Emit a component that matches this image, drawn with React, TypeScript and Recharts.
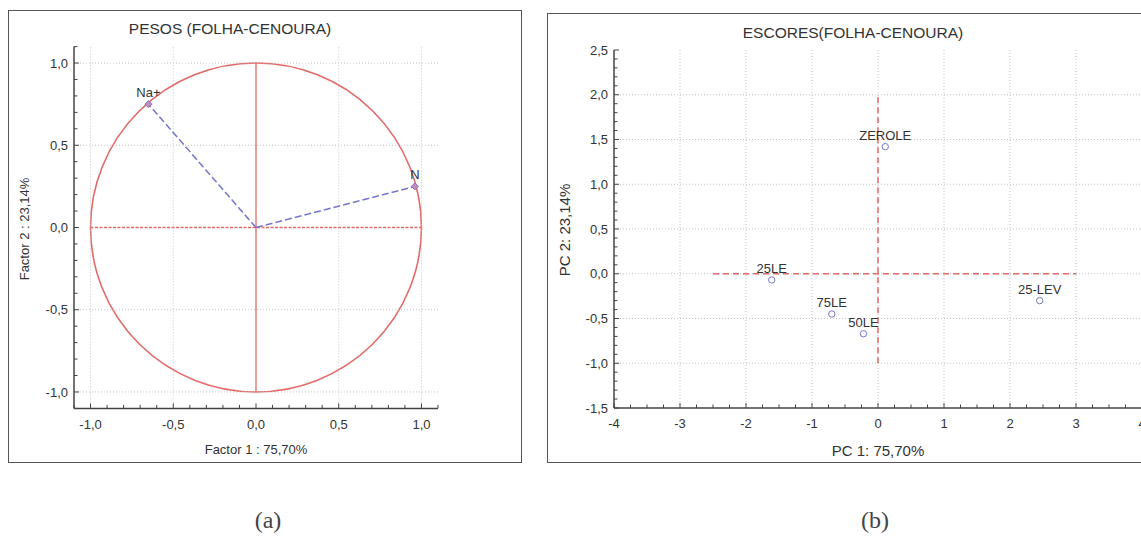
import React from 'react';
import { ScatterChart, Scatter, XAxis, YAxis, ReferenceLine, ReferenceArea } from 'recharts';

const FONT = '"Liberation Sans", Arial, Helvetica, sans-serif';

// ---------- Panel (a): loadings ----------
const loadingNames = ['Na+', 'N'];
const loadingF1 = [-0.65, 0.96];
const loadingF2 = [0.75, 0.25];
const aMajorTicks = [-1.0, -0.5, 0.0, 0.5, 1.0];
const aMajorLabels = ['-1,0', '-0,5', '0,0', '0,5', '1,0'];
const aGridValues = [-1.0, -0.5, 0.5, 1.0];

// ---------- Panel (b): scores ----------
const sampleNames = ['ZEROLE', '25LE', '75LE', '50LE', '25-LEV'];
const samplePC1 = [0.11, -1.61, -0.7, -0.22, 2.45];
const samplePC2 = [1.42, -0.07, -0.45, -0.67, -0.3];
const bXTicks = [-4, -3, -2, -1, 0, 1, 2, 3, 4];
const bXLabels = ['-4', '-3', '-2', '-1', '0', '1', '2', '3', '4'];
const bYTicks = [-1.5, -1.0, -0.5, 0.0, 0.5, 1.0, 1.5, 2.0, 2.5];
const bYLabels = ['-1,5', '-1,0', '-0,5', '0,0', '0,5', '1,0', '1,5', '2,0', '2,5'];

const steps = (a: number, b: number, step: number) => {
  const out: number[] = [];
  const n = Math.round((b - a) / step);
  for (let i = 0; i <= n; i++) out.push(+(a + i * step).toFixed(4));
  return out;
};
const aMinor = steps(-1.1, 1.1, 0.1);
const bXMinor = steps(-4, 4, 0.25);
const bYMinor = steps(-1.5, 2.5, 0.1);

const AXIS = '#444';
const TXT = '#333';
const RED = '#e26a68';
const BLUE = '#7676cc';
const GRID = '#c4c4c4';

const XM = 11; // tick margin x axis
const YM = 6; // tick margin y axis

const findMajor = (majors: number[], v: number) => majors.findIndex((m) => Math.abs(m - v) < 1e-6);

const makeTick = (side: 'left' | 'bottom' | 'top' | 'right', majors: number[], labels: string[]) => (props: any) => {
  const { x, y, payload } = props;
  const idx = findMajor(majors, payload.value);
  const L = idx >= 0 ? 5 : 3.5;
  if (side === 'left') {
    const ax = x + YM;
    return (
      <g>
        <line x1={ax} x2={ax + L} y1={y} y2={y} stroke={AXIS} strokeWidth={1} />
        {idx >= 0 && (
          <text x={x} y={y} dy="0.35em" textAnchor="end" fontSize={13} fill={TXT} fontFamily={FONT}>
            {labels[idx]}
          </text>
        )}
      </g>
    );
  }
  if (side === 'bottom') {
    const ay = y - XM;
    return (
      <g>
        <line x1={x} x2={x} y1={ay} y2={ay - L} stroke={AXIS} strokeWidth={1} />
        {idx >= 0 && (
          <text x={x} y={y} dy="0.71em" textAnchor="middle" fontSize={13} fill={TXT} fontFamily={FONT}>
            {labels[idx]}
          </text>
        )}
      </g>
    );
  }
  if (side === 'top') {
    const ay = y + YM;
    return <line x1={x} x2={x} y1={ay} y2={ay + L} stroke={AXIS} strokeWidth={1} />;
  }
  const ax = x - YM;
  return <line x1={ax} x2={ax - L} y1={y} y2={y} stroke={AXIS} strokeWidth={1} />;
};

const loadingSeries = loadingNames.map((name, i) => ({
  name,
  data: [
    { x: 0, y: 0, name: '' },
    { x: loadingF1[i], y: loadingF2[i], name },
  ],
}));

const scoreData = sampleNames.map((name, i) => ({ x: samplePC1[i], y: samplePC2[i], name }));

const LoadingShape = (props: any) => {
  const { cx, cy, payload } = props;
  if (!payload || !payload.name) return <g />;
  return (
    <g>
      <path
        d={`M${cx},${cy - 3.5} L${cx + 3.5},${cy} L${cx},${cy + 3.5} L${cx - 3.5},${cy} Z`}
        fill="#c98bb8"
        stroke={BLUE}
        strokeWidth={1}
      />
      <text x={cx} y={cy - 7} textAnchor="middle" fontSize={13} fill={TXT} fontFamily={FONT}>
        {payload.name}
      </text>
    </g>
  );
};

const ScoreShape = (props: any) => {
  const { cx, cy, payload } = props;
  return (
    <g>
      <circle cx={cx} cy={cy} r={3.2} fill="#fff" stroke={BLUE} strokeWidth={1} />
      <text x={cx} y={cy - 7} textAnchor="middle" fontSize={13} fill={TXT} fontFamily={FONT}>
        {payload.name}
      </text>
    </g>
  );
};

const CircleShape = (props: any) => {
  const { x, y, width, height } = props;
  return (
    <ellipse
      cx={x + width / 2}
      cy={y + height / 2}
      rx={Math.abs(width) / 2}
      ry={Math.abs(height) / 2}
      fill="none"
      stroke={RED}
      strokeWidth={1.6}
    />
  );
};

const abs = (s: React.CSSProperties): React.CSSProperties => ({ position: 'absolute', ...s });

export default function App() {
  return (
    <div
      style={{
        position: 'absolute',
        left: 0,
        top: 0,
        width: 1141,
        height: 537,
        overflow: 'hidden',
        background: '#fff',
        fontFamily: FONT,
        color: TXT,
      }}
    >
      {/* frames */}
      <div style={abs({ left: 8, top: 10, width: 514, height: 453, border: '1.5px solid #555', boxSizing: 'border-box' })} />
      <div style={abs({ left: 547, top: 13, width: 700, height: 450, border: '1.5px solid #555', boxSizing: 'border-box' })} />

      {/* Panel (a) chart */}
      <div style={abs({ left: 0, top: 0 })}>
        <ScatterChart width={530} height={470} margin={{ top: 46.6, right: 92, bottom: 31.6, left: 0 }}>
          <XAxis
            type="number"
            dataKey="x"
            domain={[-1.1, 1.1]}
            ticks={aMinor}
            interval={0}
            tickSize={0}
            tickMargin={XM}
            height={30}
            axisLine={{ stroke: AXIS, strokeWidth: 1.5 }}
            tickLine={false}
            tick={makeTick('bottom', aMajorTicks, aMajorLabels)}
            allowDataOverflow
          />
          <XAxis
            xAxisId="top"
            orientation="top"
            type="number"
            dataKey="x"
            domain={[-1.1, 1.1]}
            ticks={aMinor}
            interval={0}
            tickSize={0}
            tickMargin={YM}
            height={0}
            axisLine={{ stroke: AXIS, strokeWidth: 1.5 }}
            tickLine={false}
            tick={makeTick('top', aMajorTicks, aMajorLabels)}
            allowDataOverflow
          />
          <YAxis
            type="number"
            dataKey="y"
            domain={[-1.1, 1.1]}
            ticks={aMinor}
            interval={0}
            tickSize={0}
            tickMargin={YM}
            width={74}
            axisLine={{ stroke: AXIS, strokeWidth: 1.5 }}
            tickLine={false}
            tick={makeTick('left', aMajorTicks, aMajorLabels)}
            allowDataOverflow
          />
          <YAxis
            yAxisId="right"
            orientation="right"
            type="number"
            dataKey="y"
            domain={[-1.1, 1.1]}
            ticks={aMinor}
            interval={0}
            tickSize={0}
            tickMargin={YM}
            width={0}
            axisLine={{ stroke: AXIS, strokeWidth: 1.5 }}
            tickLine={false}
            tick={makeTick('right', aMajorTicks, aMajorLabels)}
            allowDataOverflow
          />
          {aGridValues.map((v) => (
            <ReferenceLine key={'gx' + v} x={v} stroke={GRID} strokeDasharray="1 2" />
          ))}
          {aGridValues.map((v) => (
            <ReferenceLine key={'gy' + v} y={v} stroke={GRID} strokeDasharray="1 2" />
          ))}
          <ReferenceLine segment={[{ x: 0, y: -1 }, { x: 0, y: 1 }]} stroke={RED} strokeWidth={1.3} />
          <ReferenceLine
            segment={[{ x: -1, y: 0 }, { x: 1, y: 0 }]}
            stroke={RED}
            strokeWidth={1.4}
            strokeDasharray="3 1.5"
          />
          <ReferenceArea x1={-1} x2={1} y1={-1} y2={1} shape={CircleShape} />
          {loadingSeries.map((s) => (
            <Scatter
              key={s.name}
              data={s.data}
              line={{ stroke: BLUE, strokeWidth: 1.5, strokeDasharray: '7 3' }}
              shape={LoadingShape}
              isAnimationActive={false}
            />
          ))}
        </ScatterChart>
      </div>

      {/* Panel (a) texts */}
      <div style={abs({ left: 230, top: 29, transform: 'translate(-50%,-50%)', fontSize: 15.5, whiteSpace: 'nowrap' })}>
        PESOS (FOLHA-CENOURA)
      </div>
      <div
        style={abs({
          left: 24,
          top: 229,
          transform: 'translate(-50%,-50%) rotate(-90deg)',
          fontSize: 13,
          whiteSpace: 'nowrap',
        })}
      >
        Factor 2 : 23,14%
      </div>
      <div style={abs({ left: 256, top: 449, transform: 'translate(-50%,-50%)', fontSize: 13, whiteSpace: 'nowrap' })}>
        Factor 1 : 75,70%
      </div>

      {/* Panel (b) chart */}
      <div style={abs({ left: 540, top: 0 })}>
        <ScatterChart width={610} height={470} margin={{ top: 50, right: 8, bottom: 32, left: 0 }}>
          <XAxis
            type="number"
            dataKey="x"
            domain={[-4, 4]}
            ticks={bXMinor}
            interval={0}
            tickSize={0}
            tickMargin={XM}
            height={30}
            axisLine={{ stroke: AXIS, strokeWidth: 1.5 }}
            tickLine={false}
            tick={makeTick('bottom', bXTicks, bXLabels)}
            allowDataOverflow
          />
          <XAxis
            xAxisId="top"
            orientation="top"
            type="number"
            dataKey="x"
            domain={[-4, 4]}
            ticks={bXMinor}
            interval={0}
            tickSize={0}
            tickMargin={YM}
            height={0}
            axisLine={{ stroke: AXIS, strokeWidth: 1.5 }}
            tickLine={false}
            tick={makeTick('top', bXTicks, bXLabels)}
            allowDataOverflow
          />
          <YAxis
            type="number"
            dataKey="y"
            domain={[-1.5, 2.5]}
            ticks={bYMinor}
            interval={0}
            tickSize={0}
            tickMargin={YM}
            width={74}
            axisLine={{ stroke: AXIS, strokeWidth: 1.5 }}
            tickLine={false}
            tick={makeTick('left', bYTicks, bYLabels)}
            allowDataOverflow
          />
          <YAxis
            yAxisId="right"
            orientation="right"
            type="number"
            dataKey="y"
            domain={[-1.5, 2.5]}
            ticks={bYMinor}
            interval={0}
            tickSize={0}
            tickMargin={YM}
            width={0}
            axisLine={{ stroke: AXIS, strokeWidth: 1.5 }}
            tickLine={false}
            tick={makeTick('right', bYTicks, bYLabels)}
            allowDataOverflow
          />
          {bXTicks.slice(1, -1).map((v) => (
            <ReferenceLine key={'gx' + v} x={v} stroke={GRID} strokeDasharray="1 2" />
          ))}
          {bYTicks.slice(1, -1).map((v) => (
            <ReferenceLine key={'gy' + v} y={v} stroke={GRID} strokeDasharray="1 2" />
          ))}
          <ReferenceLine
            segment={[{ x: -2.5, y: 0 }, { x: 3, y: 0 }]}
            stroke={RED}
            strokeWidth={1.5}
            strokeDasharray="6 4"
          />
          <ReferenceLine
            segment={[{ x: 0, y: -1 }, { x: 0, y: 2 }]}
            stroke={RED}
            strokeWidth={1.5}
            strokeDasharray="6 4"
          />
          <Scatter data={scoreData} shape={ScoreShape} isAnimationActive={false} />
        </ScatterChart>
      </div>

      {/* Panel (b) texts */}
      <div style={abs({ left: 853, top: 33, transform: 'translate(-50%,-50%)', fontSize: 15.5, whiteSpace: 'nowrap' })}>
        ESCORES(FOLHA-CENOURA)
      </div>
      <div
        style={abs({
          left: 564,
          top: 230,
          transform: 'translate(-50%,-50%) rotate(-90deg)',
          fontSize: 15,
          whiteSpace: 'nowrap',
        })}
      >
        PC 2: 23,14%
      </div>
      <div style={abs({ left: 878, top: 450, transform: 'translate(-50%,-50%)', fontSize: 15, whiteSpace: 'nowrap' })}>
        PC 1: 75,70%
      </div>

      {/* captions */}
      <div
        style={abs({
          left: 268,
          top: 520,
          transform: 'translate(-50%,-50%)',
          fontSize: 24,
          fontFamily: '"Liberation Serif", "Times New Roman", serif',
          color: '#444',
        })}
      >
        (a)
      </div>
      <div
        style={abs({
          left: 875,
          top: 520,
          transform: 'translate(-50%,-50%)',
          fontSize: 24,
          fontFamily: '"Liberation Serif", "Times New Roman", serif',
          color: '#444',
        })}
      >
        (b)
      </div>
    </div>
  );
}
